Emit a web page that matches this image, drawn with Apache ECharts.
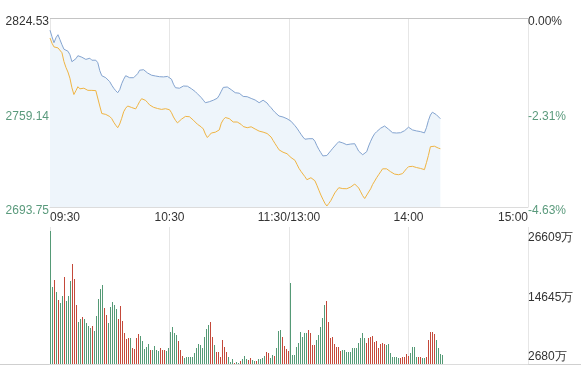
<!DOCTYPE html>
<html><head><meta charset="utf-8">
<script src="https://cdn.jsdelivr.net/npm/echarts@6/dist/echarts.min.js"></script>
<style>html,body{margin:0;padding:0;background:#fff}#c{width:581px;height:376px}</style>
</head><body><div id="c"></div>
<script>
// ---------- data ----------
const preClose = 2824.53;
const priceMin = 2693.75, priceMax = 2824.53;
const priceTicks = [2693.75, 2759.14, 2824.53];
const priceTickLabels = ['2693.75', '2759.14', '2824.53'];
const pctTickLabels = ['-4.63%', '-2.31%', '0.00%'];
const volTicks = [2680, 14645, 26609];
const volTickLabels = ['2680万', '14645万', '26609万'];
const timeTickIdx = [0, 60, 120, 180, 240];
const timeTickLabels = ['09:30', '10:30', '11:30/13:00', '14:00', '15:00'];

// categories: 09:30..11:30, 13:01..15:00
const times = [];
for (let m = 9 * 60 + 30; m <= 11 * 60 + 30; m++) times.push(String(Math.floor(m / 60)).padStart(2, '0') + ':' + String(m % 60).padStart(2, '0'));
for (let m = 13 * 60 + 1; m <= 15 * 60; m++) times.push(String(Math.floor(m / 60)).padStart(2, '0') + ':' + String(m % 60).padStart(2, '0'));

// blue line (index)
const priceA = [2816.08,2811.59,2807.43,2810.89,2812.97,2809.51,2806.05,2802.94,2801.90,2801.55,
2799.13,2794.29,2793.94,2796.36,2798.44,2797.40,2797.40,2797.75,2795.88,2796.36,
2796.71,2795.32,2794.98,2795.32,2793.59,2788.06,2784.60,2783.56,2783.21,2782.87,
2780.45,2778.02,2775.95,2774.22,2772.83,2774.91,2779.06,2782.18,2784.60,2784.25,
2783.21,2782.52,2783.21,2784.04,2785.98,2788.40,2789.44,2788.75,2787.71,2786.47,
2785.64,2784.94,2784.60,2784.39,2784.11,2783.91,2783.77,2783.77,2783.91,2784.11,
2783.56,2782.18,2778.72,2776.29,2774.91,2775.95,2776.99,2777.47,2777.68,2777.33,
2776.64,2775.60,2774.56,2773.53,2772.14,2771.10,2769.37,2767.64,2765.91,2765.57,
2766.61,2767.30,2767.64,2767.85,2769.03,2771.10,2773.87,2776.50,2776.99,2776.78,
2775.60,2774.91,2773.87,2772.83,2771.80,2772.49,2772.49,2770.27,2769.86,2770.07,
2770.76,2768.89,2768.34,2767.78,2766.95,2765.91,2766.61,2767.64,2766.95,2765.71,
2763.84,2762.45,2760.72,2759.20,2757.96,2756.71,2756.23,2756.02,2755.67,2754.84,
2754.15,2753.11,2751.87,2750.00,2748.27,2746.19,2744.12,2742.18,2740.66,2739.96,
2741.00,2742.04,2741.00,2739.27,2736.16,2733.53,2731.31,2729.10,2728.55,2729.38,
2730.62,2732.70,2734.43,2735.95,2737.54,2738.93,2738.58,2738.10,2737.54,2736.85,
2735.81,2737.33,2737.89,2737.54,2734.98,2732.35,2731.31,2729.93,2730.28,2732.01,
2735.95,2739.27,2742.18,2744.46,2745.85,2747.23,2748.27,2749.51,2749.79,2748.61,
2747.58,2746.54,2745.15,2744.95,2744.95,2744.95,2745.15,2745.85,2746.54,2747.23,
2748.96,2749.31,2747.09,2746.61,2746.40,2746.19,2745.92,2745.50,2745.02,2748.61,
2753.60,2757.40,2759.34,2758.86,2757.61,2756.23,2754.84];

// orange line
const priceB = [2810.69,2807.09,2804.53,2803.77,2803.84,2804.18,2800.51,2794.42,2790.34,2787.16,
2782.87,2776.29,2771.59,2774.22,2776.99,2775.53,2775.26,2775.95,2775.26,2774.49,
2774.84,2774.43,2773.80,2774.29,2773.53,2763.63,2758.44,2757.68,2757.82,2757.96,
2756.36,2754.91,2752.42,2750.34,2748.61,2751.17,2755.12,2759.69,2762.11,2763.63,
2763.49,2762.59,2762.04,2761.62,2764.05,2766.74,2768.68,2768.89,2767.51,2765.98,
2764.39,2763.22,2762.73,2762.32,2761.90,2761.55,2761.28,2761.28,2761.76,2762.25,
2761.07,2758.99,2756.02,2753.73,2751.94,2752.90,2754.50,2755.88,2756.43,2756.99,
2756.23,2755.05,2753.80,2752.42,2751.04,2750.00,2749.10,2747.71,2744.25,2741.83,
2743.35,2744.95,2745.22,2745.50,2745.98,2747.09,2751.73,2754.15,2755.67,2755.26,
2754.91,2753.73,2752.56,2752.56,2752.56,2751.87,2750.90,2749.44,2748.82,2748.61,
2749.17,2749.24,2748.48,2747.71,2747.02,2746.26,2745.85,2745.57,2745.22,2744.60,
2743.98,2742.18,2739.83,2737.61,2735.47,2733.32,2732.28,2731.66,2731.04,2730.62,
2729.58,2727.99,2727.02,2726.05,2723.29,2720.52,2718.44,2716.57,2714.71,2712.63,
2712.98,2714.01,2714.36,2711.94,2708.82,2705.36,2702.04,2699.14,2696.37,2694.43,
2696.23,2698.17,2700.87,2703.50,2705.36,2707.09,2706.96,2706.47,2706.40,2706.40,
2706.40,2707.58,2708.96,2709.65,2709.65,2706.89,2704.26,2701.56,2699.62,2698.93,
2704.12,2706.33,2709.38,2711.66,2714.01,2716.09,2718.10,2720.17,2721.07,2720.17,
2719.27,2718.17,2717.06,2716.51,2716.16,2716.09,2716.09,2716.85,2718.58,2720.24,
2721.63,2722.32,2721.90,2721.49,2721.07,2720.73,2720.45,2720.03,2719.62,2724.39,
2729.45,2735.47,2736.50,2735.81,2735.12,2734.50,2734.08];

// volume (万)
const volume = [26609,15460,16800,14460,12800,12260,13600,17460,12660,13600,
16600,20000,17000,11800,8460,8940,9460,9000,8140,7600,
7140,7600,6660,9600,13060,14940,15800,11200,9800,8260,
11340,12460,11740,10940,8940,11600,8600,6260,4940,5140,
5140,3140,2940,5140,6000,5600,4660,3000,3460,3940,
2800,2800,3600,2800,2600,3260,2800,2800,2600,3140,
6460,7340,6260,5800,4660,2800,1600,1140,1460,1460,
1460,1460,2140,3260,4000,3800,3140,5340,6940,7800,
8460,5340,3800,2460,2460,1460,4800,3340,2460,1460,
460,940,260,460,260,660,940,1600,940,800,
1140,800,660,600,940,940,1140,1600,2460,2260,
1260,1800,1600,3140,6660,6800,5340,3600,2940,2660,
16260,1800,1800,3460,4260,6460,5460,6140,6140,6800,
6140,3800,3800,4800,5800,7460,9260,11800,12600,8460,
5260,5460,4000,3340,3460,2660,2800,2800,2460,2460,
2460,3140,3140,3140,4140,5140,6260,5140,4260,5140,
5460,5600,4400,4600,3200,4000,4140,4000,3800,4000,
2260,1340,1340,1340,1140,1140,1460,1460,2000,1600,
2140,3460,3340,1340,1340,1460,1140,1140,1340,4800,
6460,6340,6000,4800,3140,2000,1800];

// R = up (red), G = down (green)
const volDir = ('GGRGRGGRGG' + 'GRRRGGRGGG' + 'GRGGGGGRRG' + 'GGGGRRRRRR' + 'GRRRRGGGGG' +
  'RGGGGRRRGG' + 'GGGGRRRGGG' + 'GGGGGGGGGG' + 'RRGRRRRRRG' + 'GGRGGRGGGR' +
  'RGGRGGGGRR' + 'GGRGGGRRRR' + 'GGGGGGGGGR' + 'RRRGGGGGRR' + 'RRRRRRGGGG' +
  'GGGGGGGGRR' + 'RRRRRRRRGG' + 'GGGGGRRRRR' + 'GGGGRRGGRR' + 'RRRGGGG').split('');

// ---------- chart ----------
const RED = '#c4493a', GREEN = '#559a76', LABEL_GREEN = '#5a9a7c', TEXT = '#333';
const FONT = '"Liberation Sans", Arial, sans-serif';
const chart = echarts.init(document.getElementById('c'), null, { renderer: 'canvas' });
const vLineInterval = (idx) => idx % 60 === 0;
const isPre = (v) => Math.abs(v - preClose) < 0.001;
const tickIndex = (arr, v) => { let b = 0; arr.forEach((t, k) => { if (Math.abs(t - v) < Math.abs(arr[b] - v)) b = k; }); return b; };

chart.setOption({
  animation: false,
  backgroundColor: '#fff',
  grid: [
    { left: 50, right: 53, top: 18, height: 189 },
    { left: 50, right: 53, top: 227, height: 137 }
  ],
  xAxis: [
    {
      type: 'category', gridIndex: 0, data: times, boundaryGap: false,
      axisLine: { show: true, lineStyle: { color: '#dcdcdc' } },
      axisTick: { show: false },
      splitLine: { show: true, interval: vLineInterval, lineStyle: { color: '#e6e6e6' } },
      axisLabel: {
        show: true, margin: 5, color: TEXT, fontSize: 12, fontFamily: FONT,
        interval: (idx) => timeTickIdx.includes(idx),
        formatter: (v, idx) => timeTickLabels[timeTickIdx.indexOf(idx)] || '',
        alignMinLabel: 'left', alignMaxLabel: 'right'
      }
    },
    {
      type: 'category', gridIndex: 1, data: times, boundaryGap: false, position: 'top',
      axisLine: { show: true, lineStyle: { color: '#dcdcdc' } },
      axisTick: { show: false },
      splitLine: { show: true, interval: vLineInterval, lineStyle: { color: '#e6e6e6' } },
      axisLabel: { show: false }
    }
  ],
  yAxis: [
    {
      type: 'value', gridIndex: 0, min: priceMin, max: priceMax, position: 'left',
      axisLine: { show: false }, axisTick: { show: false }, splitLine: { show: false },
      axisLabel: {
        customValues: priceTicks, margin: 1, fontSize: 12, fontFamily: FONT,
        verticalAlign: 'top', lineHeight: 8,
        formatter: (v) => priceTickLabels[tickIndex(priceTicks, v)],
        color: (v) => (isPre(v) ? TEXT : LABEL_GREEN)
      }
    },
    {
      type: 'value', gridIndex: 0, min: priceMin, max: priceMax, position: 'right',
      axisLine: { show: false }, axisTick: { show: false }, splitLine: { show: false },
      axisLabel: {
        customValues: priceTicks, margin: 0, fontSize: 12, fontFamily: FONT,
        verticalAlign: 'top', lineHeight: 8,
        formatter: (v) => pctTickLabels[tickIndex(priceTicks, v)],
        color: (v) => (isPre(v) ? TEXT : LABEL_GREEN)
      }
    },
    {
      type: 'value', gridIndex: 1, min: 0, max: 27400, position: 'right',
      axisLine: { show: false }, axisTick: { show: false }, splitLine: { show: false },
      axisLabel: {
        customValues: volTicks, margin: 0, fontSize: 12, fontFamily: FONT, color: TEXT,
        verticalAlign: 'top', lineHeight: 13,
        formatter: (v) => volTickLabels[tickIndex(volTicks, v)]
      }
    }
  ],
  series: [
    {
      type: 'line', xAxisIndex: 0, yAxisIndex: 0, data: priceA, symbol: 'none',
      lineStyle: { color: '#84a4d0', width: 1 },
      areaStyle: { color: '#eef5fb', origin: 'start', opacity: 1 },
      markLine: {
        silent: true, symbol: 'none', label: { show: false },
        lineStyle: { color: '#c4c4c4', type: 'solid', width: 1 },
        data: [{ yAxis: preClose }]
      },
      z: 3
    },
    {
      type: 'line', xAxisIndex: 0, yAxisIndex: 0, data: priceB, symbol: 'none',
      lineStyle: { color: '#efb443', width: 1 }, z: 4
    },
    {
      type: 'custom', xAxisIndex: 1, yAxisIndex: 2,
      data: volume.map((v, i) => ({ value: [i, v], itemStyle: { color: volDir[i] === 'R' ? RED : GREEN } })),
      encode: { x: 0, y: 1 },
      renderItem: (params, api) => {
        const idx = params.dataIndex;
        const top = api.coord([api.value(0), api.value(1)]);
        const base = api.coord([api.value(0), 0]);
        // snap each 1px bar to an even pixel column
        const x = Math.ceil(top[0] / 2 - 0.01) * 2;
        const y1 = Math.round(top[1]);
        const y0 = Math.round(base[1]);
        return {
          type: 'rect',
          shape: { x: x, y: y1, width: 1, height: y0 - y1 },
          style: { fill: volDir[idx] === 'R' ? RED : GREEN }
        };
      }
    }
  ],
  graphic: [
    { type: 'line', silent: true, shape: { x1: 0, y1: 364.5, x2: 581, y2: 364.5 }, style: { stroke: '#cfcfcf', lineWidth: 1 } }
  ]
});
</script>
</body></html>
